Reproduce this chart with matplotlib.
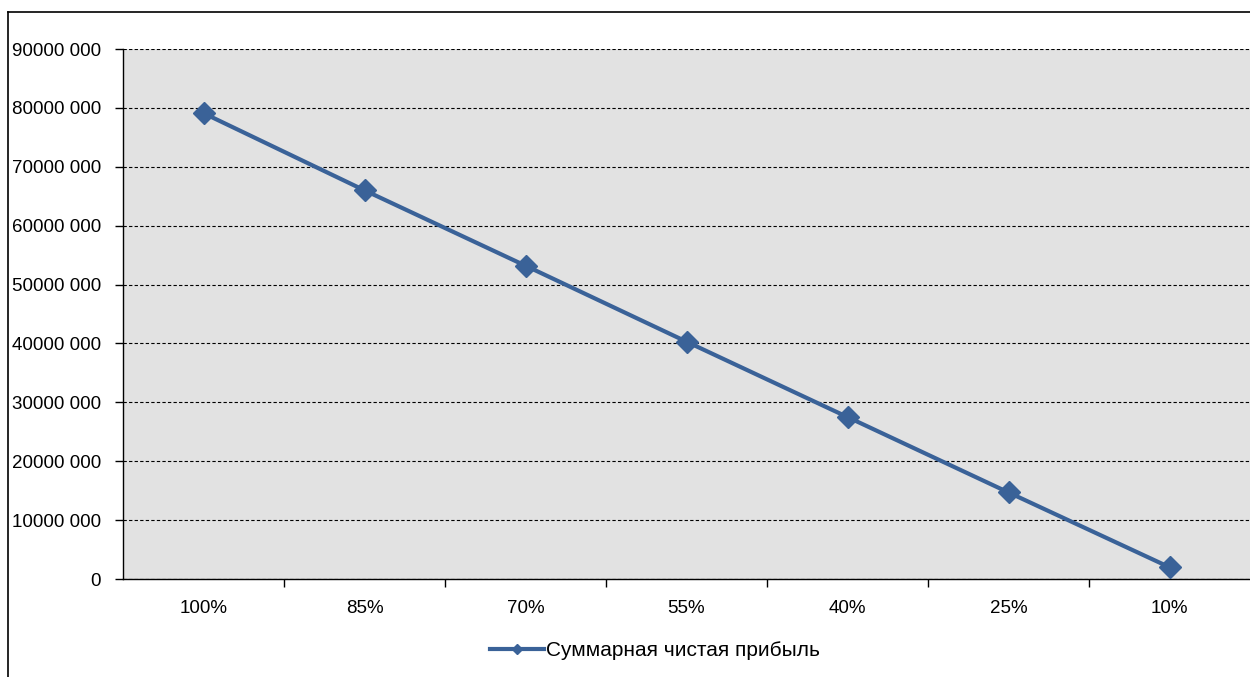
"""Line chart: Суммарная чистая прибыль by share"""

import matplotlib.pyplot as plt
import numpy as np
from matplotlib.lines import Line2D
from matplotlib.ticker import FuncFormatter, FixedLocator

plt.rcParams['font.family'] = ['Liberation Sans', 'DejaVu Sans']

# data
categories = ['100%', '85%', '70%', '55%', '40%', '25%', '10%']
profit = [79100000, 66000000, 53200000, 40300000, 27500000, 14700000, 2000000]
series_name = 'Суммарная чистая прибыль'

W, H = 1250, 677
fig = plt.figure(figsize=(W / 100, H / 100), dpi=100)
ax = fig.add_axes([123 / W, 98 / H, 1127 / W, 530 / H])

line_color = '#3A6298'
x = np.arange(len(categories))
ax.plot(x, profit, color=line_color, lw=3, marker='D', ms=11,
        markerfacecolor=line_color, markeredgecolor=line_color, zorder=3)

ax.set_facecolor('#E2E2E2')
ax.set_xlim(-0.5, len(categories) - 0.5)
ax.set_ylim(0, 90000000)
ax.set_yticks(np.arange(0, 90000001, 10000000))


def fmt(v, _pos):
    v = int(round(v))
    if v == 0:
        return '0'
    return f'{v // 1000} {v % 1000:03d}'


ax.yaxis.set_major_formatter(FuncFormatter(fmt))
ax.grid(axis='y', color='black', linestyle=(0, (3, 2)), lw=0.8)
ax.set_axisbelow(True)

ax.set_xticks(x)
ax.set_xticklabels(categories)
ax.xaxis.set_minor_locator(FixedLocator(np.arange(0.5, len(categories) - 1, 1)))
ax.tick_params(axis='x', which='major', length=0, pad=15, labelsize=13.5)
ax.tick_params(axis='x', which='minor', length=6, width=1, color='black')
ax.tick_params(axis='y', length=6, width=1, pad=10, labelsize=13.5)

for side in ['top', 'right']:
    ax.spines[side].set_visible(False)
for side in ['left', 'bottom']:
    ax.spines[side].set_color('black')
    ax.spines[side].set_linewidth(1)

# legend below the plot
handle = Line2D([], [], color=line_color, lw=3, marker='D', ms=5)
fig.legend([handle], [series_name], loc='center', frameon=False,
           bbox_to_anchor=(655 / W, 1 - 651 / H), fontsize=15,
           handlelength=2.6, handletextpad=0.1)

# outer chart frame (right/bottom edges are cut off in the original)
fig.add_artist(Line2D([8 / W, 8 / W], [0, 1 - 12 / H], color='black', lw=1.2,
                      transform=fig.transFigure))
fig.add_artist(Line2D([8 / W, 1], [1 - 12 / H, 1 - 12 / H], color='black', lw=1.2,
                      transform=fig.transFigure))

fig.savefig('out.png', dpi=100)
